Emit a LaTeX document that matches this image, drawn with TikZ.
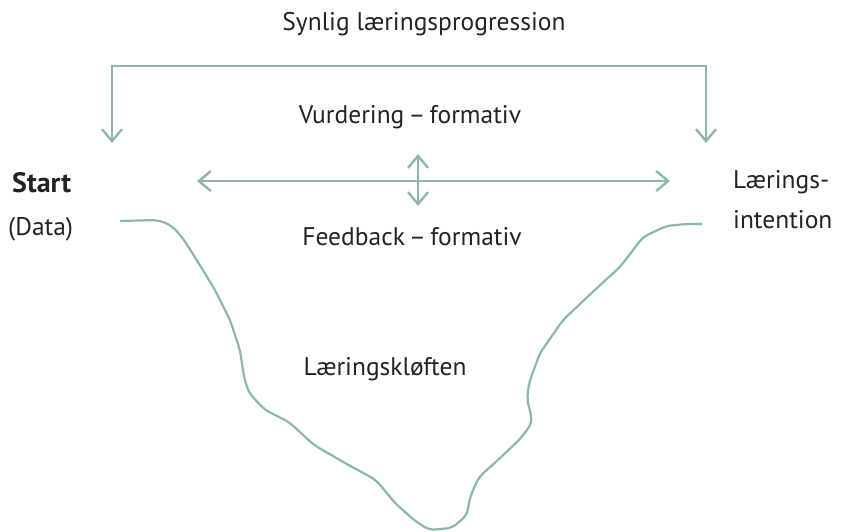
\documentclass[tikz,border=0pt]{standalone}
\usepackage{fontspec}
\setmainfont{PT Sans}
\usetikzlibrary{arrows.meta}
\definecolor{sage}{RGB}{141,182,172}
\definecolor{ink}{RGB}{35,35,35}
\tikzset{
  lbl/.style={text=ink, inner sep=0pt, font=\fontsize{25.5}{30}\selectfont},
  conn/.style={draw=sage, line width=2.4pt},
  tips/.style={{Straight Barb[length=12pt,width=20pt,line width=2.4pt]}-{Straight Barb[length=12pt,width=20pt,line width=2.4pt]}}
}
\begin{document}
\begin{tikzpicture}[x=1pt,y=-1pt]
\useasboundingbox (0,0) rectangle (850,531);
% labels
\node[lbl] (title) at (424,24) {Synlig læringsprogression};
\node[lbl] (vurd) at (410,117) {Vurdering\,–\,formativ};
\node[lbl] (feed) at (412,237) {Feedback\,–\,formativ};
\node[lbl, anchor=west, font=\fontsize{28}{32}\selectfont\bfseries] (start) at (12,183) {Start};
\node[lbl, anchor=west] (data) at (8,229) {(Data)};
\node[lbl, anchor=west] (laer) at (733,182) {Lærings-};
\node[lbl, anchor=west] (int) at (733,220) {intention};
\node[lbl] (kloeft) at (385,369) {Læringskløften};
% bracket from start to goal
\coordinate (bl) at (112,143);
\coordinate (tl) at (112,66);
\coordinate (tr) at (706,66);
\coordinate (br) at (706,143);
\draw[conn, tips] (bl) -- (tl) -- (tr) -- (br);
% horizontal and vertical double arrows
\coordinate (hl) at (197,181);
\coordinate (hr) at (670,181);
\coordinate (vt) at (418,154);
\coordinate (vb) at (418,206);
\draw[conn, tips] (hl) -- (hr);
\draw[conn, tips] (vt) -- (vb);
% the learning gap
\coordinate (g0) at (120,221);
\coordinate (g1) at (702,224);
\draw[conn, line width=2.2pt, rounded corners=6pt]
  (g0) -- (157,220) -- (171,225) -- (182,237) -- (198,262) -- (215,290)
  -- (230,320) -- (240,350) -- (244,377) -- (249,393) -- (265,410)
  -- (289,422) -- (314,445) -- (345,463) -- (376,480) -- (395,503)
  -- (414,520) -- (429,530) -- (452,528) -- (467,515) -- (470,497)
  -- (479,477) -- (498,460) -- (521,438) -- (532,423) -- (530,410)
  -- (527,400) -- (529,383) -- (540,353) -- (563,320) -- (598,287)
  -- (620,267) -- (643,237) -- (666,226) -- (686,224) -- (g1);
\end{tikzpicture}
\end{document}
